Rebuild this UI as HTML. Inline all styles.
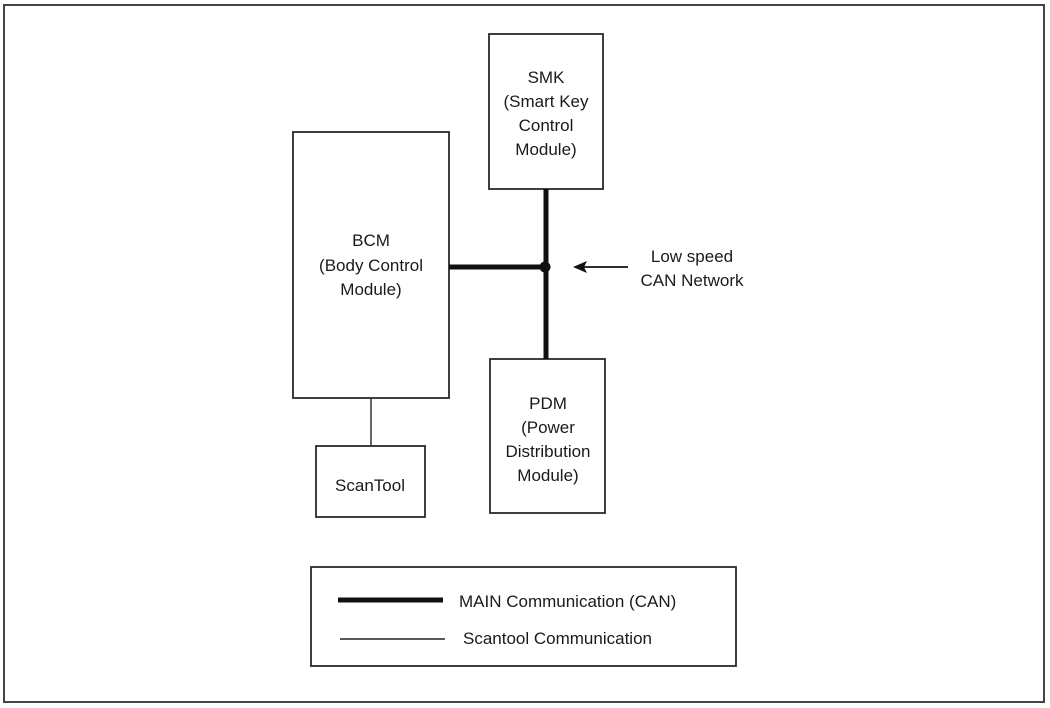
<!DOCTYPE html>
<html><head><meta charset="utf-8"><style>
html,body{margin:0;padding:0;background:#fff;}
svg{display:block;}
text{font-family:"Liberation Sans",Arial,sans-serif;font-size:17px;fill:#1a1a1a;text-anchor:middle;}
</style></head><body>
<svg width="1050" height="708" viewBox="0 0 1050 708" xmlns="http://www.w3.org/2000/svg">
<rect x="0" y="0" width="1050" height="708" fill="#fff"/>
<rect x="4" y="5" width="1040" height="697" fill="none" stroke="#444" stroke-width="2"/>
<g fill="#fff" stroke="#2a2a2a" stroke-width="1.8">
<rect x="489" y="34" width="114" height="155"/>
<rect x="293" y="132" width="156" height="266"/>
<rect x="316" y="446" width="109" height="71"/>
<rect x="490" y="359" width="115" height="154"/>
<rect x="311" y="567" width="425" height="99"/>
</g>
<line x1="546" y1="189" x2="546" y2="359" stroke="#111" stroke-width="5"/>
<line x1="449" y1="267" x2="546" y2="267" stroke="#111" stroke-width="5"/>
<circle cx="545" cy="267" r="5.5" fill="#111"/>
<line x1="371" y1="398" x2="371" y2="446" stroke="#333" stroke-width="1.5"/>
<line x1="582" y1="267" x2="628" y2="267" stroke="#111" stroke-width="1.8"/>
<path d="M573 267 L587 261 L584 267 L587 273 Z" fill="#111"/>
<line x1="338" y1="600" x2="443" y2="600" stroke="#111" stroke-width="5"/>
<line x1="340" y1="639" x2="445" y2="639" stroke="#222" stroke-width="1.5"/>
<text x="546" y="83">SMK</text>
<text x="546" y="107">(Smart Key</text>
<text x="546" y="131">Control</text>
<text x="546" y="155">Module)</text>
<text x="371" y="246">BCM</text>
<text x="371" y="271">(Body Control</text>
<text x="371" y="295">Module)</text>
<text x="370" y="491">ScanTool</text>
<text x="548" y="409">PDM</text>
<text x="548" y="433">(Power</text>
<text x="548" y="457">Distribution</text>
<text x="548" y="481">Module)</text>
<text x="692" y="262">Low speed</text>
<text x="692" y="286">CAN Network</text>
<text x="459" y="607" style="text-anchor:start">MAIN Communication (CAN)</text>
<text x="463" y="644" style="text-anchor:start">Scantool Communication</text>
</svg>
</body></html>
